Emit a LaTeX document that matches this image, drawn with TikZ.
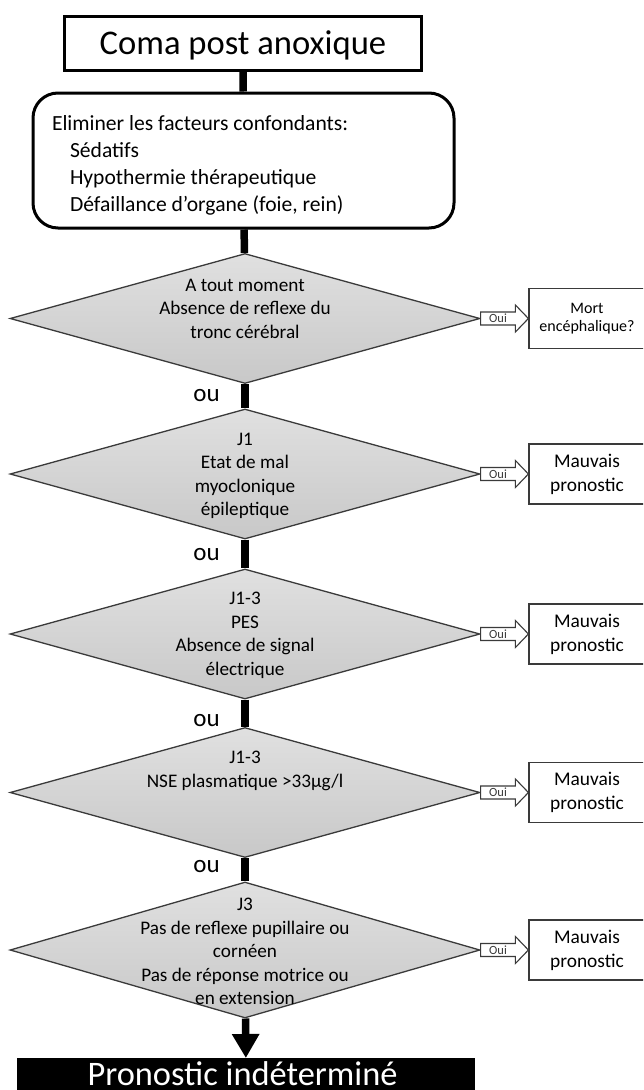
\documentclass[tikz,border=0pt]{standalone}
\usepackage{fontspec}
\setmainfont{Carlito}
\usetikzlibrary{shapes.geometric,arrows.meta,calc}
\definecolor{dfillA}{HTML}{E0E0E0}
\definecolor{dfillB}{HTML}{C8C8C8}
\definecolor{edgec}{HTML}{3A3A3A}
\begin{document}
\begin{tikzpicture}[x=1pt,y=-1pt,
  titlebox/.style={draw,line width=3pt,fill=white,minimum width=357pt,minimum height=54pt,inner sep=0pt,text height=22pt,text depth=0pt,font=\fontsize{34.6}{40}\selectfont},
  elimbox/.style={draw,line width=3pt,fill=white,rounded corners=25pt,minimum width=421pt,minimum height=135pt,text width=383pt,inner xsep=19pt,inner ysep=0pt,align=flush left,font=\fontsize{21.6}{27}\selectfont},
  diam/.style={diamond,draw=edgec,line width=1.3pt,top color=dfillA,bottom color=dfillB,minimum width=470pt,minimum height=130pt,inner sep=0pt},
  dtext/.style={align=center,inner sep=0pt,font=\fontsize{19.2}{23.5}\selectfont},
  outbox/.style={draw=edgec,line width=1.2pt,fill=white,minimum width=116pt,minimum height=60pt,inner sep=0pt,align=center},
  outsmall/.style={font=\fontsize{16}{18}\selectfont},
  outbig/.style={font=\fontsize{19.4}{24}\selectfont},
  oulabel/.style={inner sep=0pt,font=\fontsize{25}{28}\selectfont},
  conn/.style={line width=7.5pt,black},
  ouiarrow/.style={draw=edgec,line width=1.1pt,fill=white,line join=miter},
  ouitext/.style={inner sep=0pt,font=\fontsize{12.5}{13}\selectfont,text=edgec},
  endbox/.style={fill=black,minimum width=458pt,minimum height=32pt,inner sep=0pt},
  endtext/.style={text=white,inner sep=0pt,font=\fontsize{34.4}{38}\selectfont}
]
\useasboundingbox (0,0) rectangle (643,1090);
\clip (0,0) rectangle (643,1090);
\fill[white] (0,0) rectangle (643,1090);

% main column
\node[titlebox] (title) at (243,43) {Coma post anoxique};
\node[elimbox] (elim) at (243.5,160.5) {\rule{0pt}{25.5pt}Eliminer les facteurs confondants:\\
\hspace*{18pt}Sédatifs\\
\hspace*{18pt}Hypothermie thérapeutique\\
\hspace*{18pt}Défaillance d’organe (foie, rein)};

\node[diam] (d1) at (245,318.5) {};
\node[diam] (d2) at (245,474) {};
\node[diam] (d3) at (245,634) {};
\node[diam] (d4) at (245,792.5) {};
\node[diam,minimum height=136pt] (d5) at (245,950) {};

\node[endbox,anchor=north] (bb) at (246,1058) {};
\node[endtext,anchor=base] (bbt) at (242.5,1085) {Pronostic indéterminé};

% connectors
\draw[conn] (title) -- (elim);
\draw[conn] (elim) -- (d1);
\draw[conn] (d1) -- (d2);
\draw[conn] (d2) -- (d3);
\draw[conn] (d3) -- (d4);
\draw[conn] (d4) -- (d5);
\draw[conn,-{Triangle[width=26pt,length=24pt]}] (d5) -- (bb);

% diamond texts
\node[dtext] (t1) at (245,308.5) {A tout moment\\Absence de reflexe du\\tronc cérébral};
\node[dtext] (t2) at (245,476) {J1\\Etat de mal\\myoclonique\\épileptique};
\node[dtext] (t3) at (245,635.5) {J1-3\\PES\\Absence de signal\\électrique};
\node[dtext] (t4) at (245,771) {J1-3\\NSE plasmatique >33µg/l};
\node[dtext] (t5) at (245,951.5) {J3\\Pas de reflexe pupillaire ou\\cornéen\\Pas de réponse motrice ou\\en extension};

% "ou" labels
\node[oulabel] (ou1) at (206.5,396) {ou};
\node[oulabel] (ou2) at (206.5,555) {ou};
\node[oulabel] (ou3) at (206.5,721) {ou};
\node[oulabel] (ou4) at (206.5,867) {ou};

% outcome boxes
\node[outbox,outsmall] (r1) at (587,318.5) {Mort\\encéphalique?};
\node[outbox,outbig] (r2) at (587,474) {Mauvais\\pronostic};
\node[outbox,outbig] (r3) at (587,634) {Mauvais\\pronostic};
\node[outbox,outbig] (r4) at (587,792.5) {Mauvais\\pronostic};
\node[outbox,outbig] (r5) at (587,950) {Mauvais\\pronostic};

% Oui block arrows
\foreach \i in {1,...,5}{
  \draw[ouiarrow] ($(d\i.east)+(0,-6.5)$) -- ($(r\i.west)+(-13,-6.5)$) -- ($(r\i.west)+(-13,-13.5)$) -- (r\i.west) -- ($(r\i.west)+(-13,13.5)$) -- ($(r\i.west)+(-13,6.5)$) -- ($(d\i.east)+(0,6.5)$) -- cycle;
  \node[ouitext] (oui\i) at ($(d\i.east)!0.5!(r\i.west)+(-6.5,0)$) {Oui};
}
\end{tikzpicture}
\end{document}
